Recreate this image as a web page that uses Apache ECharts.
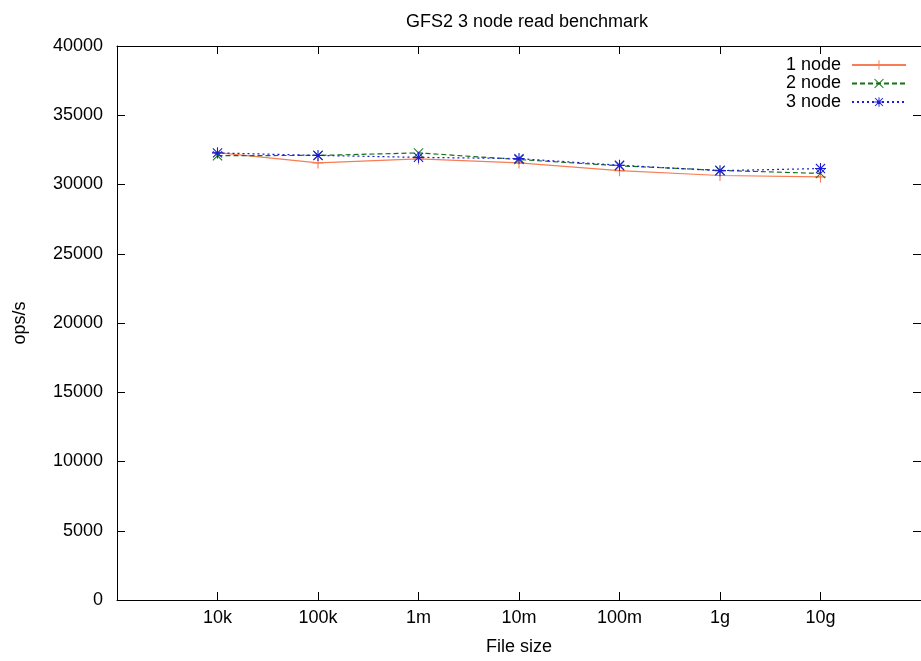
<!DOCTYPE html>
<html><head><meta charset="utf-8">
<script src="https://cdn.jsdelivr.net/npm/echarts@6/dist/echarts.min.js"></script>
<style>html,body{margin:0;padding:0;background:#fff}#c{width:921px;height:661px}</style>
</head><body><div id="c"></div>
<script>
const categories = ['10k', '100k', '1m', '10m', '100m', '1g', '10g'];
const node1 = [32300, 31560, 31850, 31560, 31000, 30650, 30550];
const node2 = [32080, 32100, 32280, 31800, 31350, 31020, 30800];
const node3 = [32280, 32100, 31960, 31870, 31390, 31000, 31150];
const seriesNames = ['1 node', '2 node', '3 node'];

const plus = 'path://M4.5,0H5.5V4.5H10V5.5H5.5V10H4.5V5.5H0V4.5H4.5Z';
const cross = 'path://M0.7,0L5,4.3L9.3,0L10,0.7L5.7,5L10,9.3L9.3,10L5,5.7L0.7,10L0,9.3L4.3,5L0,0.7Z';
const star = 'path://M4.5,0H5.5V4.5H10V5.5H5.5V10H4.5V5.5H0V4.5H4.5Z M1.2,0.5L5,4.3L8.8,0.5L9.5,1.2L5.7,5L9.5,8.8L8.8,9.5L5,5.7L1.2,9.5L0.5,8.8L4.3,5L0.5,1.2Z';

const toPts = arr => arr.map((v, i) => [i + 1, v]);
const font = 'Liberation Sans, Arial, Helvetica, sans-serif';
const fs = 18;

const chart = echarts.init(document.getElementById('c'));
const axisLine = {show: true, onZero: false, lineStyle: {color: '#000', width: 1}};
const tick = {show: true, inside: true, length: 8, lineStyle: {color: '#000'}};
const xTickVals = categories.map((c, i) => i + 1);
chart.setOption({
  animation: false,
  backgroundColor: '#fff',
  textStyle: {fontFamily: font},
  title: {text: 'GFS2 3 node read benchmark', left: 522, top: 8, textAlign: 'center',
    textStyle: {fontSize: fs, fontWeight: 'normal', color: '#000', fontFamily: font}},
  grid: {left: 117, top: 46, right: -8, bottom: 59, containLabel: false},
  legend: {
    orient: 'vertical', right: 9, top: 51, align: 'right',
    itemWidth: 54, itemHeight: 12, itemGap: 0.5,
    textStyle: {fontSize: fs, color: '#000', fontFamily: font, padding: [0, 6, 0, 0]},
    data: seriesNames
  },
  xAxis: [{
    type: 'value', min: 0, max: 8, interval: 1,
    name: 'File size', nameLocation: 'middle', nameGap: 38,
    nameTextStyle: {fontSize: fs, color: '#000', fontFamily: font},
    axisLine: axisLine,
    axisTick: Object.assign({}, tick, {customValues: xTickVals}),
    axisLabel: {fontSize: fs, color: '#000', margin: 9, fontFamily: font,
      customValues: xTickVals,
      formatter: v => categories[v - 1] || ''},
    splitLine: {show: false}
  }, {
    type: 'value', min: 0, max: 8, interval: 1, position: 'top',
    axisLine: axisLine,
    axisTick: Object.assign({}, tick, {customValues: xTickVals}),
    axisLabel: {show: false}, splitLine: {show: false}
  }],
  yAxis: [{
    type: 'value', min: 0, max: 40000, interval: 5000,
    name: 'ops/s', nameLocation: 'middle', nameGap: 88, nameRotate: 90,
    nameTextStyle: {fontSize: fs, color: '#000', fontFamily: font},
    axisLine: axisLine, axisTick: tick,
    axisLabel: {fontSize: fs, color: '#000', margin: 14, fontFamily: font,
      formatter: v => String(v)},
    splitLine: {show: false}
  }, {
    type: 'value', min: 0, max: 40000, interval: 5000, position: 'right',
    axisLine: axisLine, axisTick: tick, axisLabel: {show: false}, splitLine: {show: false}
  }],
  series: [
    {name: seriesNames[0], type: 'line', data: toPts(node1), symbol: plus, symbolSize: 11,
      itemStyle: {color: '#f77d54'}, lineStyle: {color: '#f77d54', width: 1.2, type: 'solid'}},
    {name: seriesNames[1], type: 'line', data: toPts(node2), symbol: cross, symbolSize: 10,
      itemStyle: {color: '#137313'}, lineStyle: {color: '#137313', width: 1.2, type: [5, 3]}},
    {name: seriesNames[2], type: 'line', data: toPts(node3), symbol: star, symbolSize: 11,
      itemStyle: {color: '#1c1cd8'}, lineStyle: {color: '#1c1cd8', width: 1.2, type: [2, 3]}}
  ]
});
</script></body></html>
